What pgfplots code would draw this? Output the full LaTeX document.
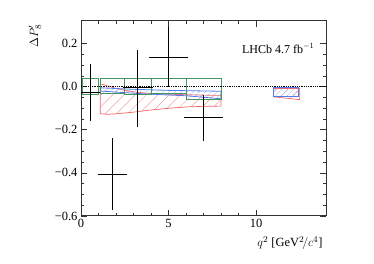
\documentclass[border=0pt]{standalone}
\usepackage{fontspec}
\setmainfont{Liberation Serif}
\usepackage{pgfplots}
\pgfplotsset{compat=1.18}
\usetikzlibrary{patterns.meta}
\definecolor{myred}{RGB}{240,100,100}
\definecolor{myredl}{RGB}{248,160,160}
\definecolor{myblue}{RGB}{80,125,235}
\definecolor{mygreen}{RGB}{70,150,100}
\begin{document}
\begin{tikzpicture}[x=1pt,y=1pt]
\useasboundingbox (0,0) rectangle (374,264);
\begin{axis}[at={(81pt,48pt)}, anchor=south west, scale only axis,
  width=245pt, height=195pt,
  xmin=0, xmax=14, ymin=-0.6, ymax=0.305,
  xtick={0,5,10}, xticklabels={0,5,10}, minor x tick num=4,
  ytick={-0.6,-0.4,-0.2,0,0.2}, yticklabels={−0.6,−0.4,−0.2,0.0,0.2}, minor y tick num=3,
  tick align=inside, xtick pos=both, ytick pos=both,
  xticklabel pos=bottom, yticklabel pos=left,
  major tick length=6pt, minor tick length=3pt,
  axis line style={black!80, line width=1pt},
  every tick/.style={black!80, line width=0.8pt},
  tick label style={font=\fontsize{12.5}{13}\selectfont},
  xlabel={$q^2$ [GeV$^2\!/c^4$]},
  xlabel style={at={(axis description cs:1,0)}, anchor=north east, yshift=-17pt, font=\fontsize{12.5}{13}\selectfont},
  ylabel={$\Delta P'_8$},
  ylabel style={at={(axis description cs:-0.188,1)}, anchor=east, font=\fontsize{12.5}{13}\selectfont},
  clip=false,
]
% red band
\addplot[draw=myred, line width=0.7pt, pattern={Lines[angle=45,distance=8pt,line width=0.5pt]}, pattern color=myredl]
 coordinates {(1.1,0.014) (2,-0.008) (3,-0.024) (4,-0.032) (5,-0.035) (6,-0.037) (7,-0.039) (8,-0.04)
  (8,-0.09) (7,-0.091) (6,-0.094) (5,-0.1) (4,-0.108) (3,-0.118) (2,-0.126) (1.5,-0.128) (1.1,-0.125)} -- cycle;
\addplot[draw=myred, line width=0.7pt, pattern={Lines[angle=45,distance=8pt,line width=0.5pt]}, pattern color=myredl]
 coordinates {(11,-0.008) (12.5,-0.008) (12.5,-0.06) (11,-0.047)} -- cycle;
% blue band
\addplot[draw=myblue, line width=0.8pt, pattern={Lines[angle=45,distance=4pt,line width=0.4pt]}, pattern color=myblue!60]
 coordinates {(1.1,-0.005) (3,-0.012) (5,-0.017) (8,-0.021)
  (8,-0.056) (6,-0.042) (4,-0.035) (2,-0.025) (1.1,-0.02)} -- cycle;
\addplot[draw=myblue, line width=0.8pt, pattern={Lines[angle=45,distance=4pt,line width=0.4pt]}, pattern color=myblue!60]
 coordinates {(11,-0.004) (12.45,-0.004) (12.45,-0.043) (11,-0.043)} -- cycle;
% green boxes
\addplot[draw=mygreen, line width=0.8pt] coordinates {(0.1,0.037) (0.98,0.037) (0.98,-0.036) (0.1,-0.036)} -- cycle;
\addplot[draw=mygreen, line width=0.8pt] coordinates {(1.1,0.04) (2.5,0.04) (2.5,-0.033) (1.1,-0.033)} -- cycle;
\addplot[draw=mygreen, line width=0.8pt] coordinates {(2.5,0.038) (4,0.038) (4,-0.035) (2.5,-0.035)} -- cycle;
\addplot[draw=mygreen, line width=0.8pt] coordinates {(4,0.037) (6,0.037) (6,-0.033) (4,-0.033)} -- cycle;
\addplot[draw=mygreen, line width=0.8pt] coordinates {(6,0.039) (8,0.039) (8,-0.06) (6,-0.06)} -- cycle;
% zero line
\addplot[black, densely dotted, line width=0.8pt] coordinates {(0,0) (14,0)};
% data
\addplot[draw=none, mark=none,
  error bars/.cd, x dir=both, x explicit, y dir=both, y explicit,
  error bar style={draw=black, solid, line width=0.8pt},
  error mark options={draw=black, mark size=2.2pt, line width=0.8pt}]
 table[x=x, y=y, x error plus=exp, x error minus=exm, y error plus=eyp, y error minus=eym] {
x y exm exp eym eyp
0.54 -0.027 0.44 0.44 0.122 0.121
1.8 -0.405 0.7 0.7 0.158 0.155
3.25 -0.005 0.75 0.75 0.17 0.166
5.0 0.138 1.0 1.0 0.129 0.127
7.0 -0.144 1.0 1.0 0.098 0.096
};
\node[anchor=west, font=\fontsize{12}{13}\selectfont] at (axis cs:9.0,0.177) {LHCb 4.7 fb$^{-1}$};
\end{axis}
\end{tikzpicture}
\end{document}
